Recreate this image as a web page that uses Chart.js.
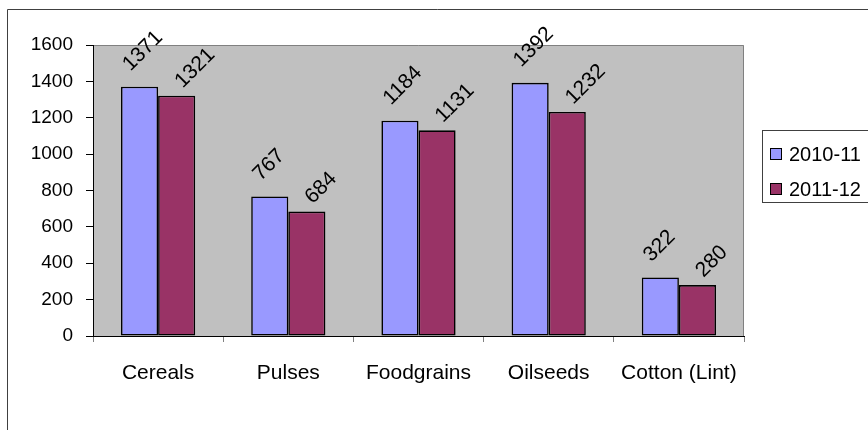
<!DOCTYPE html>
<html>
<head>
<meta charset="utf-8">
<title>Production 2010-11 vs 2011-12</title>
<script src="https://cdn.jsdelivr.net/npm/chart.js@4/dist/chart.umd.min.js"></script>
<style>
  html, body { margin: 0; padding: 0; background: #ffffff; }
  #wrap { position: relative; width: 868px; height: 430px; }
</style>
</head>
<body>
<div id="wrap"><canvas id="chart"></canvas></div>
<script>
// Crop groups and the two seasons compared
const categories = ['Cereals', 'Pulses', 'Foodgrains', 'Oilseeds', 'Cotton (Lint)'];
const seriesNames = ['2010-11', '2011-12'];
const values2010_11 = [1371, 767, 1184, 1392, 322];
const values2011_12 = [1321, 684, 1131, 1232, 280];

// Value axis range
const yMin = 0;
const yMax = 1600;
const yStep = 200;

const FONT = "'Liberation Sans', Arial, sans-serif";
const seriesColors = ['#9999FF', '#993366'];

// Grey plot area, frame around the whole chart, value labels and legend box
const decorations = {
  id: 'decorations',
  beforeDraw(chart) {
    const { ctx, chartArea: a, width, height } = chart;
    ctx.save();
    ctx.fillStyle = '#C0C0C0';
    ctx.fillRect(a.left, a.top, a.right - a.left, a.bottom - a.top);
    ctx.strokeStyle = '#808080';
    ctx.lineWidth = 1;
    ctx.beginPath();
    ctx.moveTo(a.left, a.top + 0.5);
    ctx.lineTo(a.right - 0.5, a.top + 0.5);
    ctx.lineTo(a.right - 0.5, a.bottom);
    ctx.stroke();
    // outer chart frame
    ctx.strokeStyle = '#404040';
    ctx.beginPath();
    ctx.moveTo(7.5, height);
    ctx.lineTo(7.5, 9.5);
    ctx.lineTo(width, 9.5);
    ctx.stroke();
    ctx.restore();
  },
  afterDatasetsDraw(chart) {
    const { ctx } = chart;
    // anchor of each series' rotated labels, relative to the bar top centre
    const anchors = [{ dx: -9, dy: -15 }, { dx: 6, dy: -7 }];
    ctx.save();
    ctx.font = '21px ' + FONT;
    ctx.fillStyle = '#000000';
    ctx.textAlign = 'left';
    ctx.textBaseline = 'alphabetic';
    chart.data.datasets.forEach((ds, di) => {
      const meta = chart.getDatasetMeta(di);
      meta.data.forEach((bar, i) => {
        ctx.save();
        ctx.translate(bar.x + anchors[di].dx, bar.y + anchors[di].dy);
        ctx.rotate(-Math.PI / 4);
        ctx.fillText(String(ds.data[i]), 0, 0);
        ctx.restore();
      });
    });
    ctx.restore();
  },
  afterDraw(chart) {
    const { ctx, width } = chart;
    const boxLeft = 762.5, boxTop = 130.5, boxBottom = 202.5;
    ctx.save();
    ctx.fillStyle = '#ffffff';
    ctx.fillRect(boxLeft, boxTop, width - boxLeft + 5, boxBottom - boxTop);
    ctx.strokeStyle = '#404040';
    ctx.lineWidth = 1;
    ctx.strokeRect(boxLeft, boxTop, width - boxLeft + 5, boxBottom - boxTop);
    ctx.font = '20px ' + FONT;
    ctx.textAlign = 'left';
    ctx.textBaseline = 'middle';
    chart.data.datasets.forEach((ds, di) => {
      const cy = 154 + di * 35;
      ctx.fillStyle = ds.backgroundColor;
      ctx.fillRect(770, cy - 6, 12, 12);
      ctx.strokeStyle = '#000000';
      ctx.strokeRect(770.5, cy - 5.5, 11, 11);
      ctx.fillStyle = '#000000';
      ctx.fillText(ds.label, 789, cy + 1);
    });
    ctx.restore();
  }
};

new Chart(document.getElementById('chart'), {
  type: 'bar',
  data: {
    labels: categories,
    datasets: [
      { label: seriesNames[0], data: values2010_11, backgroundColor: seriesColors[0] },
      { label: seriesNames[1], data: values2011_12, backgroundColor: seriesColors[1] }
    ]
  },
  options: {
    responsive: true,
    maintainAspectRatio: false,
    animation: false,
    layout: { padding: { left: 0, top: 45, right: 124, bottom: 0 } },
    datasets: {
      bar: {
        borderColor: '#000000',
        borderWidth: 1.6,
        borderSkipped: false,
        categoryPercentage: 0.57,
        barPercentage: 1.0
      }
    },
    plugins: {
      legend: { display: false },
      tooltip: { enabled: false },
      title: { display: false }
    },
    scales: {
      x: {
        afterFit(scale) { scale.height = 94; },
        border: { display: true, color: '#000000', width: 1 },
        grid: {
          offset: true,
          drawOnChartArea: false,
          drawTicks: true,
          tickLength: 6,
          color: '#808080'
        },
        ticks: {
          color: '#000000',
          font: { family: FONT, size: 21 },
          padding: 19,
          maxRotation: 0,
          autoSkip: false
        }
      },
      y: {
        min: yMin,
        max: yMax,
        afterFit(scale) { scale.width = 93; },
        border: { display: true, color: '#000000', width: 1 },
        grid: {
          drawOnChartArea: false,
          drawTicks: true,
          tickLength: 7,
          color: '#000000'
        },
        ticks: {
          stepSize: yStep,
          color: '#000000',
          font: { family: FONT, size: 19 },
          padding: 13,
          callback: (value) => String(value)
        }
      }
    }
  },
  plugins: [decorations]
});
</script>
</body>
</html>
